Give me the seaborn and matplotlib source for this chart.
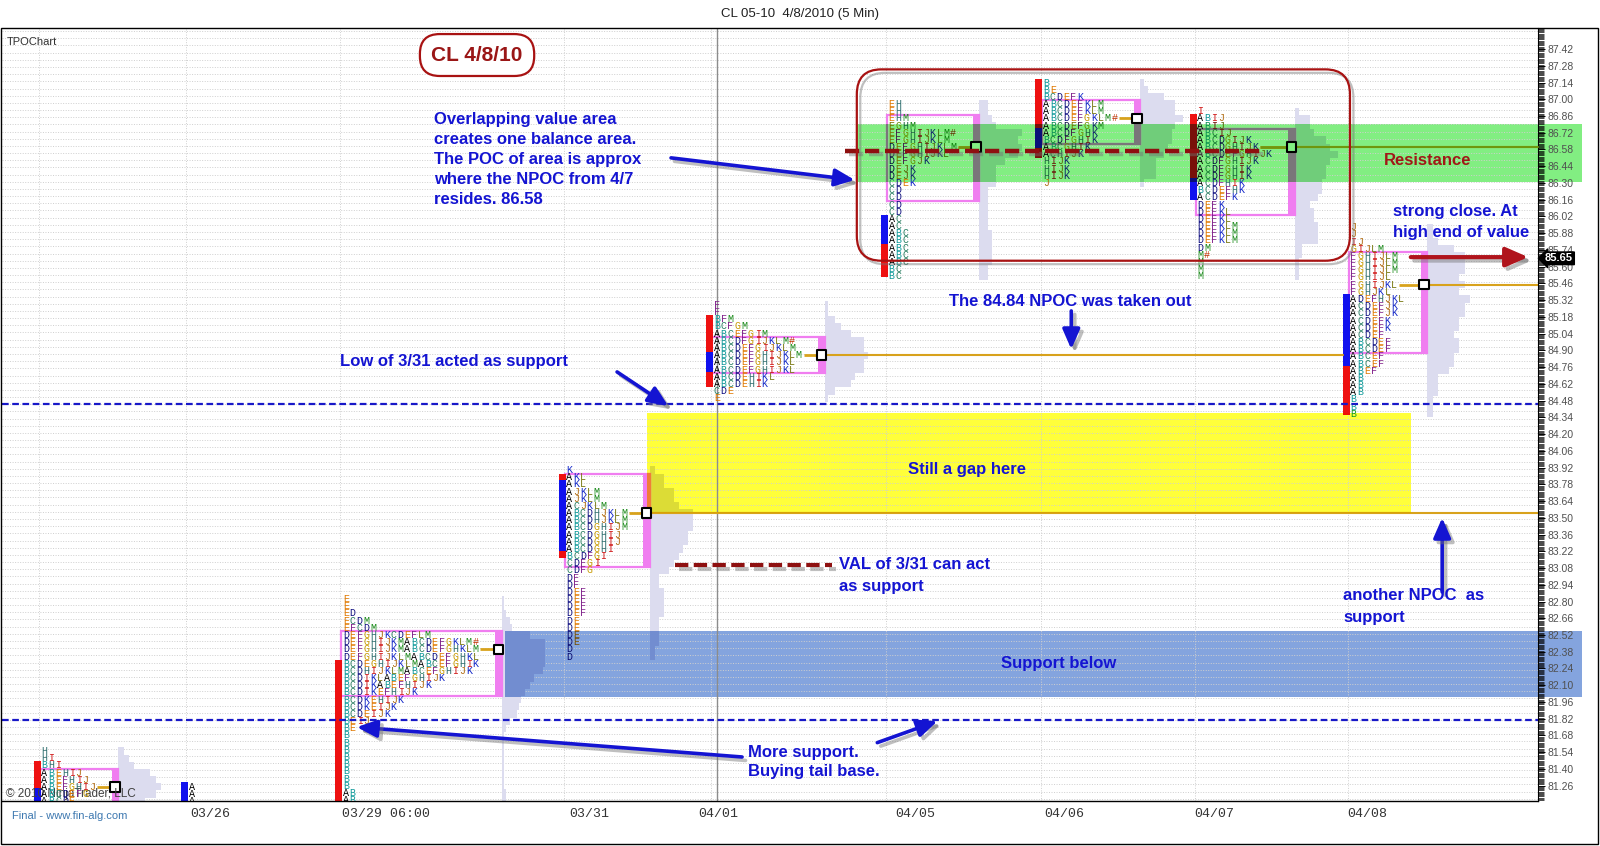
import numpy as np
import pandas as pd
import matplotlib
matplotlib.use("Agg")
import matplotlib.pyplot as plt
import seaborn as sns
from matplotlib.patches import Rectangle, FancyBboxPatch
from matplotlib.colors import to_rgb
from matplotlib.ticker import MultipleLocator, FixedLocator
import matplotlib.patheffects as pe
from matplotlib.transforms import blended_transform_factory

# ---------------- data ----------------
session_labels = ["03/25", "03/26", "03/29", "03/31", "04/01", "04/05", "04/06", "04/07", "04/08"]
session_start = [5.56, 27.1, 49.7, 82.4, 104.0, 129.6, 152.2, 174.8, 197.2]   # time column of first TPO letter
session_top = [81.55, 81.25, 82.82, 83.90, 85.28, 86.96, 87.14, 86.90, 85.93]  # price of top TPO row
row_step = 0.06

rows_0325 = ["H", "HI", "BHI", "ABEHIJ", "ABEFHIJ", "ABEFGHIJ", "ABCDEFG", "ABCDE"]
rows_0326 = ["A", "A", "A"]
rows_0329 = ["E", "E", "ED", "ECDM", "EFCDM", "DEFGHJKCDEFLM", "DEFGHIJKMABCDEFGKLM#",
             "DEFGHIJKMABCDEFGHKLM", "DEFGHIJKLMABCDEFGHKL", "BCDEGHIJKLMABCEFGHIK",
             "BCDHIJKLMABCEFGHIJK", "BCDIKLABEFGHIJK", "BCDIKABEFHIJK", "BCDIKEFHIJK",
             "BCDKEHIJK", "BCDKEIJK", "BCDEIJK", "BEIJ", "BE", "B", "B", "B", "B", "B",
             "B", "B", "B", "AB", "AB"]
rows_0331 = ["K", "AKL", "AKL", "AJKLM", "AJKLM", "ACJKLM", "ABCDHJKLM", "ABCDHJKLM",
             "ABCDGHIJM", "ABCDGHIJ", "ABCDGHIJ", "ABCDGHI", "BCDFGI", "CDFGI", "CDFG",
             "DF", "DF", "DEF", "DEF", "DEF", "DEF", "DE", "DE", "DE", "DE", "D", "D"]
rows_0401 = ["F", "F", "BFM", "BCFGM", "ABCEFGIM", "ABCDFGIJKLM#", "ABCDEFGIJKLM",
             "ABCDEFGHIJKLM", "ABCDEFGHIJKL", "ABCDEFGHIJKL", "ABCDEHIKL", "ABCDEHIK", "CDE", "E"]
rows_0405 = ["EH", "EH", "EHM", "EGHM", "EFGHIJKLM#", "EFGHIJKLM", "DEFGHIJKLM", "DEFGHIJKL",
             "DEFGJK", "DEJK", "DEJK", "CDEK", "CD", "CD", "CD", "CD", "AC", "AC", "ABC",
             "ABC", "ABC", "ABC", "ABC", "BC", "BC"]
rows_0406 = ["B", "BE", "BCDEFK", "ABCDEFKLM", "ABCDEFKLM", "ABCDEFGKLM#", "ABCDEFGKM",
             "ABCDFGHK", "BCDFGHIK", "ABCGHIK", "ACHIJK", "HIJK", "HIJK", "HIJK", "J"]
rows_0407 = ["I", "ABIJ", "ABIJ", "ABCIJ", "ABCDGIJK", "ABCDGHIJK", "ABCDEFGHIJK", "ACDFGHIJK",
             "ACDFGHIK", "ACDFGHIK", "ACDFHIK", "BCDEFHK", "ACDEFK", "DEFK", "DEFKL", "DEFKL",
             "DEFKLM", "DEFKLM", "DEFKLM", "DM", "M#", "M", "M", "M"]
rows_0408 = ["J", "J", "IJ", "GIJLM", "FGHIJLM", "FGHIJLM", "FGHIJLM", "FGHIJL", "FGHIJKL",
             "FGHJKL", "ADEFHJKL", "ACDEFJK", "ACDEFJK", "ACDEFK", "ACDEFK", "ACDEF", "ABCDEF",
             "ABCDEF", "ABCEF", "ABCEF", "ABEF", "AB", "AB", "AB", "B", "B", "B"]
session_rows = [rows_0325, rows_0326, rows_0329, rows_0331, rows_0401,
                rows_0405, rows_0406, rows_0407, rows_0408]

poc_price = [81.25, None, 82.40, 83.54, 84.86, 86.60, 86.84, 86.60, 85.45]
va_high = [81.37, None, 82.52, 83.84, 84.98, 86.84, 86.96, 86.72, 85.69]
va_low = [81.13, None, 82.04, 83.12, 84.74, 86.18, 86.66, 86.06, 84.91]
npoc_end = [None, None, None, 224.73, 196.2, None, None, 224.73, 224.73]

# session range bars: (top price, bottom price, 'R' range extension / 'B' initial balance)
bars_0325 = [(81.47, 81.24, "R"), (81.24, 81.10, "B")]
bars_0326 = [(81.29, 81.10, "B")]
bars_0329 = [(82.31, 81.10, "R")]
bars_0331 = [(83.87, 83.82, "R"), (83.82, 83.22, "B"), (83.22, 83.16, "R")]
bars_0401 = [(85.20, 84.89, "R"), (84.89, 84.72, "B"), (84.72, 84.59, "R")]
bars_0405 = [(86.03, 85.79, "B"), (85.79, 85.51, "R")]
bars_0406 = [(87.17, 86.76, "R"), (86.76, 86.59, "B"), (86.59, 86.51, "R")]
bars_0407 = [(86.88, 86.34, "R"), (86.34, 86.16, "B")]
bars_0408 = [(85.37, 84.77, "B"), (84.77, 84.36, "R")]
session_bars = [bars_0325, bars_0326, bars_0329, bars_0331, bars_0401,
                bars_0405, bars_0406, bars_0407, bars_0408]

# highlighted zones
zone_labels = ["Resistance", "Still a gap here", "Support below"]
zone_x0 = [125.0, 94.3, 73.5]
zone_x1 = [231.2, 206.1, 231.2]
zone_lo = [86.31, 83.54, 82.00]
zone_hi = [86.79, 84.38, 82.556]
zone_colors = ["#82ee82", "#ffff3a", "#84a4de"]

support_lines = [84.45, 81.81]
area_poc = 86.57
val_0331 = 83.105
last_price = 85.65

xtick_pos = [30.3, 56.1, 85.9, 104.7, 133.5, 155.3, 177.3, 199.7]
xtick_labels = ["03/26", "03/29 06:00", "03/31", "04/01", "04/05", "04/06", "04/07", "04/08"]
ytick_vals = [round(81.12 + 0.14 * i, 2) for i in range(46)]

letter_colors = {"A": "#000000", "B": "#119a9a", "C": "#2a7f62", "D": "#101080", "E": "#e07800",
                 "F": "#80208a", "G": "#c89a00", "H": "#2f6f6f", "I": "#d01818", "J": "#b06a10",
                 "K": "#1428c8", "L": "#7a7a14", "M": "#1a8a1a", "#": "#c03000"}

# ---------------- style ----------------
sns.set_theme(style="white")
plt.rcParams["font.family"] = ["Liberation Sans", "DejaVu Sans"]

W, H = 1600, 846
fig = plt.figure(figsize=(16, 8.46), dpi=100)
ax = fig.add_axes([2 / W, 1 - 801 / H, 1536 / W, 773 / H])
XMAX = 224.73
ax.set_xlim(-0.15, XMAX)
ax.set_ylim(81.132, 87.596)

PINK = "#f07ef0"
GOLD = "#d8a21c"
RED = "#ee1111"
BLUE = "#1111ee"
LAV = "#dcdcef"
ABLUE = "#1414d2"
DRED = "#8e1010"


def mult(c, b):
    a = to_rgb(c)
    bb = to_rgb(b)
    return tuple(x * y for x, y in zip(a, bb))


def zone_at(x, y):
    for i in range(3):
        if zone_x0[i] <= x <= zone_x1[i] and zone_lo[i] <= y <= zone_hi[i]:
            return zone_colors[i]
    return None


def tint(c, x, y):
    z = zone_at(x, y)
    return mult(c, z) if z else c


def banded(make, bx0, bx1, by0, by1):
    make(lambda c: c, None)
    for i in range(3):
        if bx1 >= zone_x0[i] and bx0 <= zone_x1[i] and by1 >= zone_lo[i] and by0 <= zone_hi[i]:
            clip = Rectangle((zone_x0[i], zone_lo[i]), zone_x1[i] - zone_x0[i],
                             zone_hi[i] - zone_lo[i], transform=ax.transData)
            make(lambda c, b=zone_colors[i]: mult(c, b), clip)


def clipit(arts, clip):
    if clip is not None:
        for a in arts:
            a.set_clip_path(clip)


# zones (multiply-style highlight)
for i in range(3):
    ax.add_patch(Rectangle((zone_x0[i], zone_lo[i]), zone_x1[i] - zone_x0[i], zone_hi[i] - zone_lo[i],
                           facecolor=zone_colors[i], edgecolor="none", zorder=0.2, clip_on=False))

# grid
for yv in np.arange(81.15, 87.6, 0.06):
    ax.axhline(yv, color="#cfcfcf", lw=0.7, ls=(0, (1, 1.6)), zorder=0.6)
for s in session_start:
    ax.axvline(s - 0.3, color="#cfcfcf", lw=0.7, ls=(0, (1, 1.6)), zorder=0.6)
ax.axvline(104.5, color="#8c8c8c", lw=1.0, zorder=0.65)

poc_x, poc_y, poc_fc = [], [], []

for k in range(len(session_labels)):
    s = session_start[k]
    rows = session_rows[k]
    prices = [round(session_top[k] - row_step * i, 2) for i in range(len(rows))]
    maxlen = max(len(r) for r in rows)
    has_va = va_high[k] is not None
    box_r = s + maxlen + 3.3

    if has_va:
        # volume-style profile
        widths = [len(r) / maxlen * 6.3 for r in rows]

        def mk_prof(f, clip, prices=prices, widths=widths, box_r=box_r):
            cont = ax.barh(prices, widths, left=box_r, height=row_step, color=f(LAV),
                           edgecolor="none", zorder=1.0 if clip is None else 1.01)
            clipit(list(cont), clip)
        banded(mk_prof, box_r, box_r + 6.3, prices[-1], prices[0])

        # value area box
        y0 = va_low[k] - row_step / 2
        hh = va_high[k] - va_low[k] + row_step

        def mk_box(f, clip, s=s, y0=y0, hh=hh, box_r=box_r):
            r1 = Rectangle((s - 0.15, y0), box_r - s + 0.15, hh, fill=False, edgecolor=f(PINK),
                           lw=1.6, zorder=2.0 if clip is None else 2.01)
            r2 = Rectangle((box_r - 0.95, y0), 0.95, hh, facecolor=f(PINK), edgecolor="none",
                           zorder=2.0 if clip is None else 2.01)
            ax.add_patch(r1)
            ax.add_patch(r2)
            clipit([r1, r2], clip)
        banded(mk_box, s, box_r, y0, y0 + hh)

        # POC line and naked POC extension
        pr = rows[prices.index(poc_price[k])]
        px0 = s + len(pr) + 0.2

        def mk_poc(f, clip, px0=px0, box_r=box_r, pp=poc_price[k], ext=npoc_end[k]):
            arts = ax.plot([px0, box_r - 0.95], [pp, pp], color=f(GOLD), lw=2.0,
                           zorder=2.5 if clip is None else 2.51, solid_capstyle="butt")
            if ext is not None:
                arts += ax.plot([box_r, ext], [pp, pp], color=f(GOLD), lw=1.5,
                                zorder=2.5 if clip is None else 2.51)
            clipit(arts, clip)
        banded(mk_poc, px0, npoc_end[k] or box_r, poc_price[k], poc_price[k])

        poc_x.append(box_r - 0.475)
        poc_y.append(poc_price[k])
        poc_fc.append(tint("#ffffff", box_r - 0.475, poc_price[k]))

    # session range bar
    for (t, b, c) in session_bars[k]:
        colr = RED if c == "R" else BLUE

        def mk_bar(f, clip, s=s, t=t, b=b, colr=colr):
            r = Rectangle((s - 1.05, b), 1.0, t - b, facecolor=f(colr), edgecolor="none",
                          zorder=2.2 if clip is None else 2.21)
            ax.add_patch(r)
            clipit([r], clip)
        banded(mk_bar, s - 1.05, s, b, t)

    # TPO letters
    for p, r in zip(prices, rows):
        for j, ch in enumerate(r):
            xx = s + j + 0.5
            ax.text(xx, p, ch, color=tint(letter_colors[ch], xx, p), fontsize=7.2,
                    family="Liberation Mono", ha="center", va="center", zorder=3, clip_on=True)

# POC markers via seaborn
poc_df = pd.DataFrame({"x": poc_x, "y": poc_y})
sns.scatterplot(data=poc_df, x="x", y="y", marker="s", s=48, color="white",
                edgecolor="black", linewidth=1.5, ax=ax, zorder=2.6, legend=False)
ax.collections[-1].set_facecolors(poc_fc)

# support / resistance reference lines
for yv in support_lines:
    ax.axhline(yv, color="#1818c8", lw=1.6, ls=(0, (3.0, 1.6)), zorder=4)

shadow = [pe.SimpleLineShadow(offset=(2.5, -2.5), shadow_color="0.45", alpha=0.45), pe.Normal()]
ax.plot([123.3, 184.0], [area_poc, area_poc], color=DRED, lw=3.2, ls=(0, (3.2, 1.3)),
        zorder=5, path_effects=shadow)
ax.plot([98.4, 121.4], [val_0331, val_0331], color=DRED, lw=3.0, ls=(0, (3.2, 1.3)),
        zorder=5, path_effects=shadow)

# rounded red frame around balance area
frame = FancyBboxPatch((125.0, 85.65), 197.2 - 125.0, 87.25 - 85.65,
                       boxstyle="round,pad=0,rounding_size=3.6", mutation_aspect=0.058,
                       fill=False, edgecolor="#a81212", lw=1.6, zorder=5, path_effects=shadow)
ax.add_patch(frame)


def arrow(tail, head, color=ABLUE, lw=2.6, ms=15):
    ax.annotate("", xy=head, xytext=tail,
                arrowprops=dict(arrowstyle="-|>,head_length=0.8,head_width=0.35", color=color,
                                lw=lw, shrinkA=0, shrinkB=0, mutation_scale=ms,
                                path_effects=[pe.SimpleLineShadow(offset=(2.5, -2.5), shadow_color="0.45",
                                                                  alpha=0.45), pe.Normal()]),
                zorder=6)


arrow((97.8, 86.51), (124.7, 86.325))
arrow((89.9, 84.72), (97.4, 84.435))
arrow((156.4, 85.23), (156.4, 84.91))
arrow((210.7, 82.88), (210.7, 83.50))
arrow((108.2, 81.50), (51.8, 81.75))
arrow((128.0, 81.62), (136.8, 81.80))
arrow((206.1, 85.68), (223.3, 85.68), color="#b0141c", lw=3.0, ms=17)

tkw = dict(color=ABLUE, fontsize=12, fontweight="bold", zorder=7)
ax.text(63.1, 86.895, "Overlapping value area\ncreates one balance area.\nThe POC of area is approx\n"
        "where the NPOC from 4/7\nresides. 86.58", va="top", ha="left", linespacing=1.42, **tkw)
ax.text(49.3, 84.81, "Low of 3/31 acted as support", va="center", ha="left", **tkw)
ax.text(138.5, 85.31, "The 84.84 NPOC was taken out", va="center", ha="left", **tkw)
ax.text(203.5, 85.975, "strong close. At\nhigh end of value", va="center", ha="left",
        linespacing=1.55, clip_on=False, **tkw)
ax.text(141.1, 83.90, zone_labels[1], va="center", ha="center", **tkw)
ax.text(122.4, 83.02, "VAL of 3/31 can act\nas support", va="center", ha="left", linespacing=1.58, **tkw)
ax.text(196.2, 82.755, "another NPOC  as\nsupport", va="center", ha="left", linespacing=1.58, **tkw)
ax.text(154.6, 82.28, zone_labels[2], va="center", ha="center", **tkw)
ax.text(109.1, 81.455, "More support.\nBuying tail base.", va="center", ha="left", linespacing=1.33, **tkw)
ax.text(208.6, 86.49, zone_labels[0], va="center", ha="center", color="#a01818", fontsize=12,
        fontweight="bold", zorder=7)

ax.text(69.4, 87.37, "CL 4/8/10", ha="center", va="center", fontsize=15, fontweight="bold",
        color="#9a1616", zorder=7,
        bbox=dict(boxstyle="round,pad=0.55,rounding_size=0.95", fc="white", ec="#a81212", lw=1.6))

# copyright inside plot (under the letters)
ax.text(6 / W, 1 - 794 / H, "\u00a9 2010 NinjaTrader, LLC", transform=fig.transFigure, fontsize=8.5,
        color="#404040", va="center", ha="left", zorder=2.8)

# ---------------- axes ----------------
for sp in ["top", "left"]:
    ax.spines[sp].set_visible(False)
ax.spines["bottom"].set_color("black")
ax.spines["bottom"].set_linewidth(1.0)
ax.spines["right"].set_color("black")
ax.spines["right"].set_linewidth(0.8)
ax.yaxis.tick_right()
ax.yaxis.set_major_locator(FixedLocator(ytick_vals))
ax.set_yticklabels([f"{v:.2f}" for v in ytick_vals])
ax.yaxis.set_minor_locator(MultipleLocator(0.01))
ax.tick_params(axis="y", which="major", direction="out", length=5, width=0.7, pad=2,
               labelsize=7.5, labelcolor="#505050", color="black")
ax.tick_params(axis="y", which="minor", direction="out", length=4, width=0.5, color="black")
ax.set_xticks(xtick_pos)
ax.set_xticklabels(xtick_labels)
ax.tick_params(axis="x", length=0, pad=5, labelsize=9.5, labelcolor="#333333")
for lab in ax.get_xticklabels():
    lab.set_fontfamily("Liberation Mono")
ax.set_xlabel("")
ax.set_ylabel("")
ax.grid(False)

# last price marker
tr = blended_transform_factory(ax.transAxes, ax.transData)
ax.text(1.0 + 7 / 1536, last_price + 0.02, f"{last_price:.2f}", transform=tr, ha="left", va="center",
        color="white", fontsize=8, fontweight="bold", zorder=8, clip_on=False,
        bbox=dict(boxstyle="larrow,pad=0.12", fc="black", ec="black"))

# figure texts and frame
fig.text(0.5, 1 - 14 / H, "CL 05-10  4/8/2010 (5 Min)", ha="center", va="center", fontsize=9.5,
         color="#202020")
fig.text(7 / W, 1 - 42 / H, "TPOChart", ha="left", va="center", fontsize=8, color="#303030")
fig.text(12 / W, 1 - 816 / H, "Final - www.fin-alg.com", ha="left", va="center", fontsize=8,
         color="#3d78b0")
fig.patches.append(Rectangle((1 / W, 2 / H), 1597 / W, (844 - 28) / H, transform=fig.transFigure,
                             fill=False, edgecolor="black", lw=1.0, zorder=10))

fig.savefig("out.png", dpi=100)
